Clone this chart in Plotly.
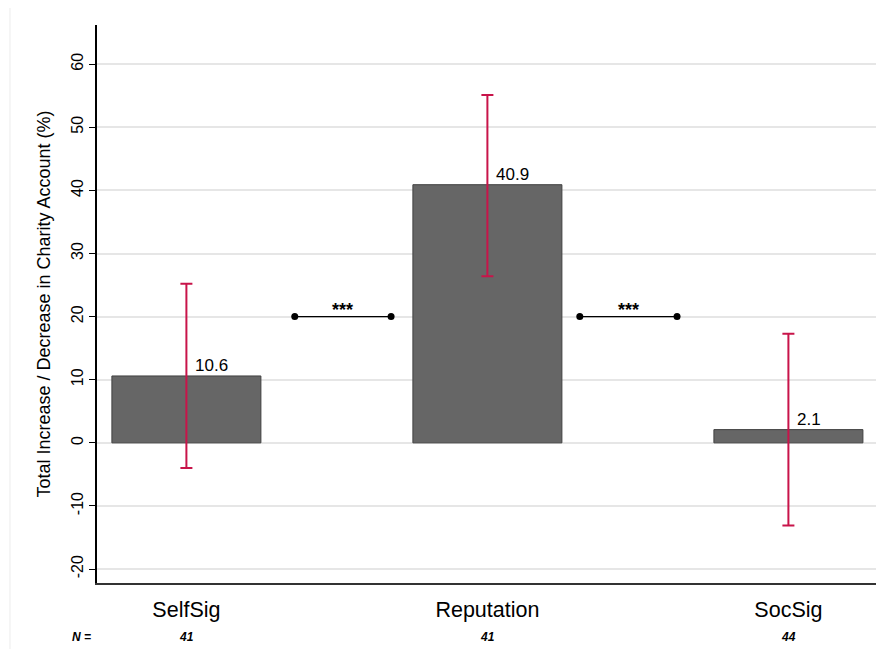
import plotly.graph_objects as go

categories = ["SelfSig", "Reputation", "SocSig"]
means = [10.6, 40.9, 2.1]
err_upper = [14.6, 14.2, 15.2]
err_lower = [14.6, 14.5, 15.2]
n_labels = ["41", "41", "44"]
sig_pairs = [(0.36, 0.68), (1.307, 1.63)]
sig_level = 20
sig_text = "***"
yticks = [-20, -10, 0, 10, 20, 30, 40, 50, 60]
ytick_labels = ["-20", "-10", "0", "10", "20", "30", "40", "50", "60"]

xpos = list(range(len(categories)))
font_family = "Liberation Sans, Arial, sans-serif"

fig = go.Figure()
fig.add_trace(go.Bar(
    x=xpos, y=means, width=0.495,
    marker=dict(color="#666666", line=dict(color="#404040", width=1)),
    error_y=dict(type="data", symmetric=False, array=err_upper, arrayminus=err_lower,
                 color="#C8144A", thickness=2, width=6),
    showlegend=False, hoverinfo="skip",
))

for a, b in sig_pairs:
    fig.add_trace(go.Scatter(
        x=[a, b], y=[sig_level, sig_level], mode="lines+markers",
        line=dict(color="black", width=1.2),
        marker=dict(color="black", size=7),
        showlegend=False, hoverinfo="skip",
    ))

annotations = []
for x, m in zip(xpos, means):
    annotations.append(dict(x=x, y=m, text=f"{m:.1f}", showarrow=False,
                            xanchor="left", yanchor="bottom", xshift=7, yshift=-1,
                            font=dict(size=17, color="black", family=font_family)))
for a, b in sig_pairs:
    annotations.append(dict(x=(a + b) / 2, y=sig_level, text=f"<b>{sig_text}</b>", showarrow=False,
                            yanchor="bottom", yshift=-5,
                            font=dict(size=18, color="black", family=font_family)))
annotations.append(dict(x=-0.005, xref="paper", xanchor="right", y=-0.113, yref="paper",
                        text="<b><i>N =</i></b>",
                        showarrow=False, font=dict(size=12, color="black", family=font_family)))
for x, n in zip(xpos, n_labels):
    annotations.append(dict(x=x, y=-0.113, yref="paper", text=f"<b><i>{n}</i></b>", showarrow=False,
                            font=dict(size=12, color="black", family=font_family)))

fig.update_layout(
    width=886, height=649,
    margin=dict(l=89, r=18, t=17, b=74, autoexpand=False),
    paper_bgcolor="white", plot_bgcolor="white",
    font=dict(family=font_family, color="black"),
    annotations=annotations,
    shapes=[dict(type="line", xref="paper", yref="paper", x0=-0.1117, x1=-0.1117,
                 y0=-0.14, y1=1.05, line=dict(color="#ececec", width=1))],
    xaxis=dict(range=[-0.297, 2.291], tickvals=xpos, ticktext=categories,
               showgrid=False, zeroline=False, showline=True, linecolor="#333333",
               linewidth=1.5, ticks="", tickfont=dict(size=21.5, color="black"),
               ticklabelstandoff=6, automargin=False),
    yaxis=dict(range=[-22.2, 66.2], tickvals=yticks, ticktext=ytick_labels,
               showgrid=True, gridcolor="#e6e6e6",
               gridwidth=1.5, zeroline=False, showline=True, linecolor="black", linewidth=1.5,
               ticks="outside", ticklen=6, tickcolor="black", tickangle=-90,
               tickfont=dict(size=16, color="black"), automargin=False,
               title=dict(text="Total Increase / Decrease in Charity Account (%)",
                          font=dict(size=18, color="black"), standoff=14)),
)

fig.write_html("out.html")
